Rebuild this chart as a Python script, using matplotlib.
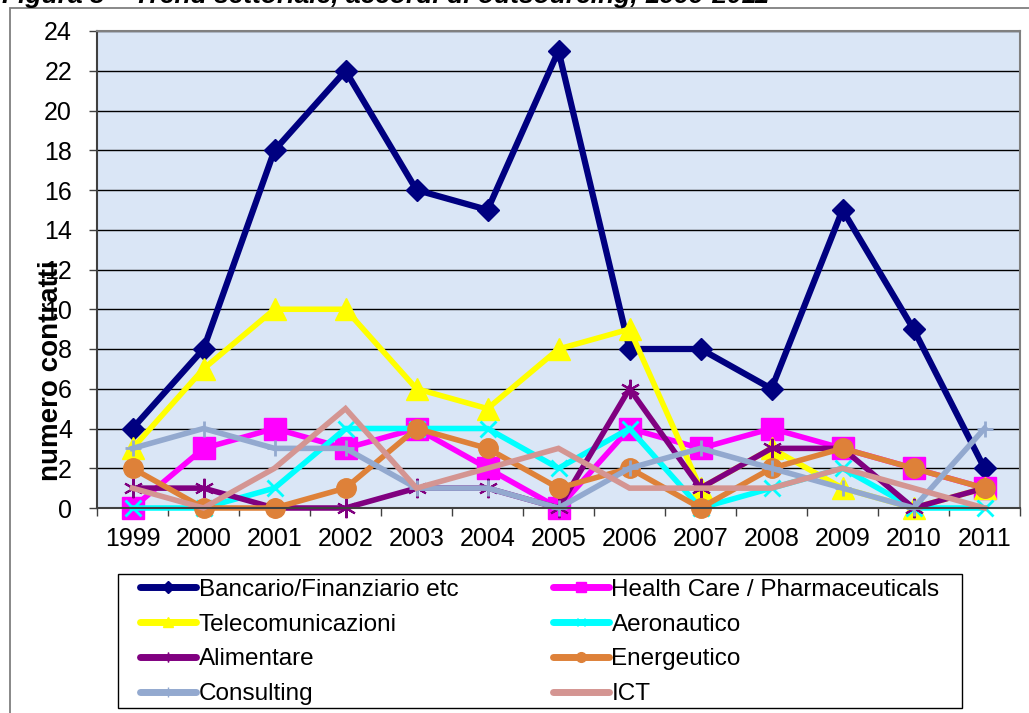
import matplotlib
matplotlib.use("Agg")
import matplotlib.pyplot as plt
from matplotlib.lines import Line2D
from matplotlib.patches import Rectangle

plt.rcParams['font.family'] = ['Liberation Sans', 'DejaVu Sans']

years = ['1999', '2000', '2001', '2002', '2003', '2004', '2005',
         '2006', '2007', '2008', '2009', '2010', '2011']

bancario = [4, 8, 18, 22, 16, 15, 23, 8, 8, 6, 15, 9, 2]
health = [0, 3, 4, 3, 4, 2, 0, 4, 3, 4, 3, 2, 1]
telecom = [3, 7, 10, 10, 6, 5, 8, 9, 1, 3, 1, 0, 1]
aeronautico = [0, 0, 1, 4, 4, 4, 2, 4, 0, 1, 2, 0, 0]
alimentare = [1, 1, 0, 0, 1, 1, 0, 6, 1, 3, 3, 0, 1]
energeutico = [2, 0, 0, 1, 4, 3, 1, 2, 0, 2, 3, 2, 1]
consulting = [3, 4, 3, 3, 1, 1, 0, 2, 3, 2, 1, 0, 4]
ict = [1, 0, 2, 5, 1, 2, 3, 1, 1, 1, 2, 1, 0]

labels = ['Bancario/Finanziario etc', 'Health Care / Pharmaceuticals',
          'Telecomunicazioni', 'Aeronautico', 'Alimentare', 'Energeutico',
          'Consulting', 'ICT']
y_ticks = list(range(0, 25, 2))

series = [bancario, health, telecom, aeronautico, alimentare, energeutico, consulting, ict]
colors = ['#000080', '#FF00FF', '#FFFF00', '#00FFFF', '#800080', '#DE8139', '#93A9CF', '#D49592']
markers = ['D', 's', '^', 'x', (6, 2, 0), 'o', '+', None]
msizes = [11, 16, 16, 12, 14, 14, 11, 0]
mews = [1, 1, 1, 2, 1.5, 1, 2, 1]
lws = [4.5, 4, 4, 4, 4, 4, 4, 4]
leg_ms = [6, 7, 7, 6, 7, 7, 7, 0]

W, H = 1029, 713
fig = plt.figure(figsize=(W / 100, H / 100), dpi=100)
fig.patch.set_facecolor('white')

# outer chart frame
fig.patches.append(Rectangle((10 / W, -0.01), 1.05, 1 - 8 / H + 0.01, transform=fig.transFigure,
                             fill=False, edgecolor='#7F7F7F', linewidth=1.3))

# cut-off title
fig.text(0.002, 1 - 3 / H, 'Figura 3 – Trend settoriale, accordi di outsourcing, 1999-2011',
         fontsize=19, fontweight='bold', fontstyle='italic', va='baseline', ha='left')

ax = fig.add_axes([97 / W, 1 - 508 / H, (1020 - 97) / W, (508 - 31) / H])
ax.set_facecolor('#DAE6F6')

x = list(range(len(years)))
for vals, c, m, ms, mew, lw in zip(series, colors, markers, msizes, mews, lws):
    ax.plot(x, vals, color=c, lw=lw, marker=m, ms=ms, mec=c, mfc=c, mew=mew,
            solid_joinstyle='miter', clip_on=False)

ax.set_xlim(-0.5, len(years) - 0.5)
ax.set_ylim(0, 24)
ax.set_yticks(y_ticks)
ax.set_yticklabels([str(v) for v in y_ticks])
ax.set_xticks(x)
ax.set_xticklabels(years)
ax.set_xticks([i + 0.5 for i in range(-1, len(years))], minor=True)
ax.tick_params(axis='x', which='major', length=0, pad=14, labelsize=18)
ax.tick_params(axis='x', which='minor', length=6, direction='out', width=1, color='#404040')
ax.tick_params(axis='y', which='major', length=6, direction='out', width=1, pad=12,
               labelsize=18, color='#404040')
ax.grid(axis='y', color='black', lw=1)
ax.set_axisbelow(True)
for s in ax.spines.values():
    s.set_color('#808080')
    s.set_linewidth(1.5)
ax.spines['left'].set_color('#404040')
ax.spines['bottom'].set_color('#404040')

ax.set_ylabel('numero contratti', fontsize=20, fontweight='bold')
ax.yaxis.set_label_coords(-0.036, 0.287)

# legend box
fig.patches.append(Rectangle((118 / W, 1 - 708 / H), (962 - 118) / W, (708 - 574) / H,
                             transform=fig.transFigure, fill=False, edgecolor='black',
                             linewidth=1))

handles = []
for c, m, ms, lab in zip(colors, markers, leg_ms, labels):
    handles.append(Line2D([], [], color=c, lw=5, marker=m, ms=ms, mec=c, mfc=c,
                          solid_capstyle='round', label=lab))
order = [0, 2, 4, 6, 1, 3, 5, 7]
leg = fig.legend([handles[i] for i in order], [labels[i] for i in order], ncol=2,
                 loc='center', bbox_to_anchor=(540 / W, 1 - 642 / H),
                 frameon=False, fontsize=17.5,
                 handlelength=2.3, handletextpad=0.1, labelspacing=0.53,
                 columnspacing=3.9, borderpad=0.0, borderaxespad=0.0)

fig.savefig('out.png', dpi=100)
